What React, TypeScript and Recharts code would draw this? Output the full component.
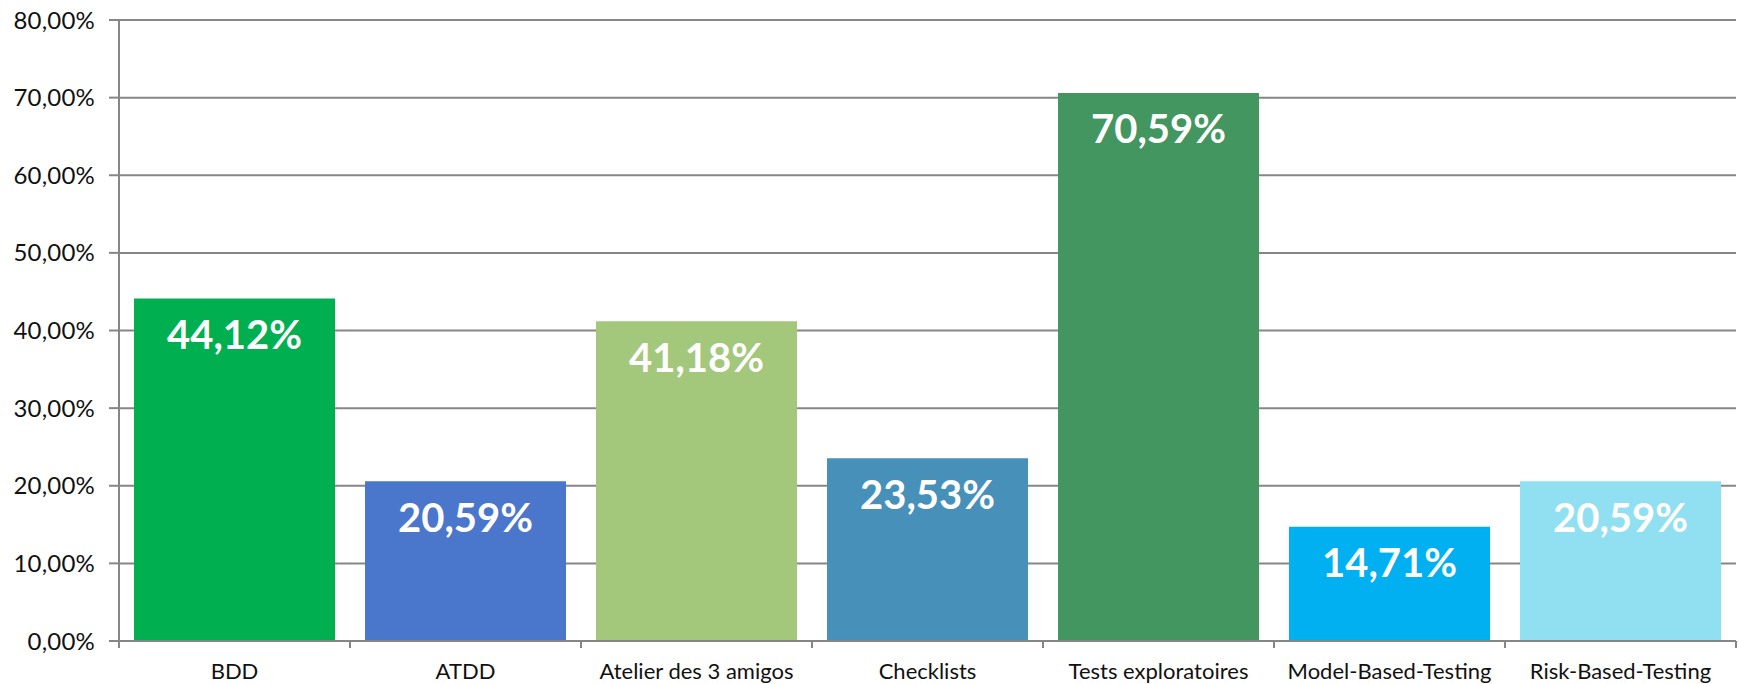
import React from 'react'
import { BarChart, Bar, XAxis, YAxis, CartesianGrid, Cell, LabelList } from 'recharts'

const categories = [
  'BDD',
  'ATDD',
  'Atelier des 3 amigos',
  'Checklists',
  'Tests exploratoires',
  'Model-Based-Testing',
  'Risk-Based-Testing',
]
const shares = [44.12, 20.59, 41.18, 23.53, 70.59, 14.71, 20.59]
const barColors = ['#00B050', '#4A76CB', '#A4C87B', '#4790BA', '#43965F', '#00B0F0', '#91E0F2']
const yTicks = [0, 10, 20, 30, 40, 50, 60, 70, 80]

const data = categories.map((name, i) => ({ name, value: shares[i] }))

const fmt = (v: number) => v.toFixed(2).replace('.', ',') + '%'

const AXIS = '#868686'
const FONT = 'Lato, "Open Sans", sans-serif'

function CategoryTick(props: any) {
  const { x, y, payload, index } = props
  const half = payload.offset ?? 0
  return (
    <g>
      <line x1={x - half} x2={x - half} y1={y - 8} y2={y - 1} stroke={AXIS} strokeWidth={2} />
      {index === categories.length - 1 && (
        <line x1={x + half} x2={x + half} y1={y - 8} y2={y - 1} stroke={AXIS} strokeWidth={2} />
      )}
      <text x={x} y={y + 30} textAnchor="middle" fill="#111" fontSize={22} fontFamily={FONT}>
        {payload.value}
      </text>
    </g>
  )
}

export default function App() {
  return (
    <div style={{ position: 'fixed', left: 0, top: 0, background: '#fff' }}>
      <BarChart
        width={1739}
        height={684}
        data={data}
        margin={{ top: 20, right: 3, left: 0, bottom: 0 }}
        barCategoryGap="6.5%"
      >
        <CartesianGrid vertical={false} stroke={AXIS} strokeWidth={2} />
        <XAxis
          dataKey="name"
          height={43}
          axisLine={{ stroke: AXIS, strokeWidth: 2 }}
          tickLine={false}
          tick={<CategoryTick />}
          interval={0}
        />
        <YAxis
          width={119}
          domain={[0, 80]}
          ticks={yTicks}
          tickFormatter={fmt}
          axisLine={{ stroke: AXIS, strokeWidth: 2 }}
          tickLine={{ stroke: AXIS, strokeWidth: 2 }}
          tickSize={10}
          tickMargin={14}
          tick={{ fill: '#111', fontSize: 24, fontFamily: FONT, letterSpacing: 0.2 }}
        />
        <Bar dataKey="value" isAnimationActive={false}>
          {data.map((d, i) => (
            <Cell key={d.name} fill={barColors[i]} />
          ))}
          <LabelList
            dataKey="value"
            position="insideTop"
            offset={22}
            formatter={(v: any) => fmt(Number(v))}
            fill="#fff"
            fontSize={40}
            fontWeight={700}
            fontFamily={FONT}
          />
        </Bar>
      </BarChart>
    </div>
  )
}
